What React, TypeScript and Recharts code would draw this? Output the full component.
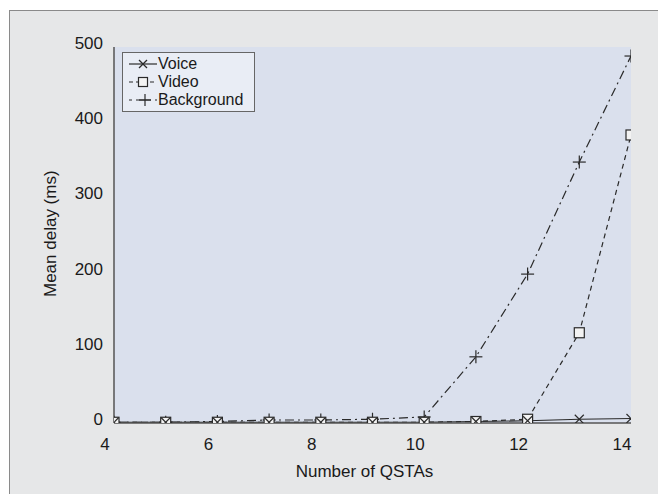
import React from "react";
import {
  LineChart,
  Line,
  XAxis,
  YAxis,
  CartesianGrid,
  Legend,
} from "recharts";

const qstas = [4, 5, 6, 7, 8, 9, 10, 11, 12, 13, 14];
const voice = [1, 1, 1, 1, 1, 1, 1, 2, 3, 5, 6];
const video = [1, 1, 1, 1, 1, 1, 1, 2, 5, 120, 383];
const background = [1, 1, 2, 4, 4, 5, 8, 88, 198, 347, 488];

const xTicks = [4, 6, 8, 10, 12, 14];
const yTicks = [0, 100, 200, 300, 400, 500];
const topTicks = [6, 8, 10, 12];
const rightTicks = [100, 200, 300, 400];

const data = qstas.map((n, i) => ({
  n,
  voice: voice[i],
  video: video[i],
  background: background[i],
}));

const FONT = "'Liberation Sans', Arial, sans-serif";
const INK = "#2a2a2a";
const AXIS = "#555";

function Cross({ cx, cy, s = 4.5 }: { cx: number; cy: number; s?: number }) {
  return (
    <g stroke={INK} strokeWidth={1.2}>
      <line x1={cx - s} y1={cy - s} x2={cx + s} y2={cy + s} />
      <line x1={cx - s} y1={cy + s} x2={cx + s} y2={cy - s} />
    </g>
  );
}

function Box({ cx, cy, s = 5 }: { cx: number; cy: number; s?: number }) {
  return (
    <rect
      x={cx - s}
      y={cy - s}
      width={s * 2}
      height={s * 2}
      fill="#f3f3f3"
      stroke={INK}
      strokeWidth={1.2}
    />
  );
}

function Plus({ cx, cy, s = 6.5 }: { cx: number; cy: number; s?: number }) {
  return (
    <g stroke={INK} strokeWidth={1.2}>
      <line x1={cx - s} y1={cy} x2={cx + s} y2={cy} />
      <line x1={cx} y1={cy - s} x2={cx} y2={cy + s} />
    </g>
  );
}

const XTick = (props: any) => {
  const { x, y, payload } = props;
  return (
    <text x={x - 9} y={y} dy={27} textAnchor="middle" fontSize={17} fill="#1a1a1a" fontFamily={FONT}>
      {payload.value}
    </text>
  );
};

const YTick = (props: any) => {
  const { x, y, payload } = props;
  return (
    <text x={x - 11} y={y} dy={2} textAnchor="end" fontSize={17} fill="#1a1a1a" fontFamily={FONT}>
      {payload.value}
    </text>
  );
};

const NoTick = () => <g />;

const legendRows = [
  { name: "Voice", dash: undefined as string | undefined, mark: "x" },
  { name: "Video", dash: "4 3", mark: "box" },
  { name: "Background", dash: "3 4 12 0", mark: "plus" },
];

const LegendBox = () => (
  <div
    style={{
      width: 133,
      height: 60,
      background: "#e9edf5",
      border: "1px solid #666",
      boxSizing: "border-box",
      fontFamily: FONT,
      fontSize: 16,
      color: "#1a1a1a",
      paddingTop: 2,
    }}
  >
    {legendRows.map((r) => (
      <div key={r.name} style={{ display: "flex", alignItems: "center", height: 18, lineHeight: "18px" }}>
        <svg width={35} height={16} style={{ flexShrink: 0 }}>
          <line x1={6} y1={8} x2={34} y2={8} stroke={INK} strokeWidth={1.2} strokeDasharray={r.dash} />
          {r.mark === "x" && <Cross cx={20} cy={8} s={4} />}
          {r.mark === "box" && <Box cx={20} cy={8} s={4.5} />}
          {r.mark === "plus" && <Plus cx={22} cy={8} s={6} />}
        </svg>
        <span>{r.name}</span>
      </div>
    ))}
  </div>
);

export default function App() {
  return (
    <div
      style={{
        position: "relative",
        width: 650,
        height: 486,
        marginLeft: 1,
        marginTop: 2,
        border: "1px solid #8a8a8a",
        background: "#e6e7e8",
        fontFamily: FONT,
      }}
    >
      <LineChart
        width={650}
        height={484}
        data={data}
        margin={{ top: 36, right: 29, bottom: 42, left: 44 }}
      >
        <CartesianGrid fill="#dae0ed" stroke="none" horizontal={false} vertical={false} />
        <XAxis
          dataKey="n"
          type="number"
          domain={[4, 14]}
          ticks={xTicks}
          tick={<XTick />}
          tickSize={0}
          tickMargin={0}
          height={30}
          axisLine={{ stroke: AXIS, strokeWidth: 1.5 }}
          tickLine={false}
          allowDataOverflow
          label={{
            value: "Number of QSTAs",
            position: "insideBottom",
            offset: -24,
            dx: -8,
            fontSize: 17,
            fill: "#1a1a1a",
            fontFamily: FONT,
          }}
        />
        <XAxis
          xAxisId="top"
          orientation="top"
          dataKey="n"
          type="number"
          domain={[4, 14]}
          ticks={topTicks}
          tick={<NoTick />}
          mirror
          height={0}
          tickSize={7}
          axisLine={{ stroke: AXIS, strokeWidth: 1.5 }}
          tickLine={{ stroke: AXIS, strokeWidth: 1.2 }}
        />
        <YAxis
          type="number"
          domain={[0, 500]}
          ticks={yTicks}
          tick={<YTick />}
          tickSize={0}
          tickMargin={0}
          width={60}
          axisLine={{ stroke: AXIS, strokeWidth: 1.5 }}
          tickLine={false}
          allowDataOverflow
          label={{
            value: "Mean delay (ms)",
            angle: -90,
            position: "insideLeft",
            offset: -4,
            dy: 62,
            fontSize: 17,
            fill: "#1a1a1a",
            fontFamily: FONT,
          }}
        />
        <YAxis
          yAxisId="right"
          orientation="right"
          type="number"
          domain={[0, 500]}
          ticks={rightTicks}
          tick={<NoTick />}
          mirror
          width={0}
          tickSize={7}
          axisLine={{ stroke: AXIS, strokeWidth: 1.5 }}
          tickLine={{ stroke: AXIS, strokeWidth: 1.2 }}
        />
        <Legend
          content={<LegendBox />}
          layout="vertical"
          verticalAlign="middle"
          align="center"
          wrapperStyle={{ top: 41, left: 112, width: 133 }}
        />
        <Line
          dataKey="background"
          name="Background"
          stroke={INK}
          strokeWidth={1.2}
          strokeDasharray="9 4 2 4"
          isAnimationActive={false}
          dot={(p: any) => <Plus key={`b${p.index}`} cx={p.cx} cy={p.cy} />}
          activeDot={false}
        />
        <Line
          dataKey="video"
          name="Video"
          stroke={INK}
          strokeWidth={1.2}
          strokeDasharray="5 4"
          isAnimationActive={false}
          dot={(p: any) => <Box key={`v${p.index}`} cx={p.cx} cy={p.cy} />}
          activeDot={false}
        />
        <Line
          dataKey="voice"
          name="Voice"
          stroke={INK}
          strokeWidth={1.2}
          isAnimationActive={false}
          dot={(p: any) => <Cross key={`c${p.index}`} cx={p.cx} cy={p.cy} />}
          activeDot={false}
        />
      </LineChart>
    </div>
  );
}
